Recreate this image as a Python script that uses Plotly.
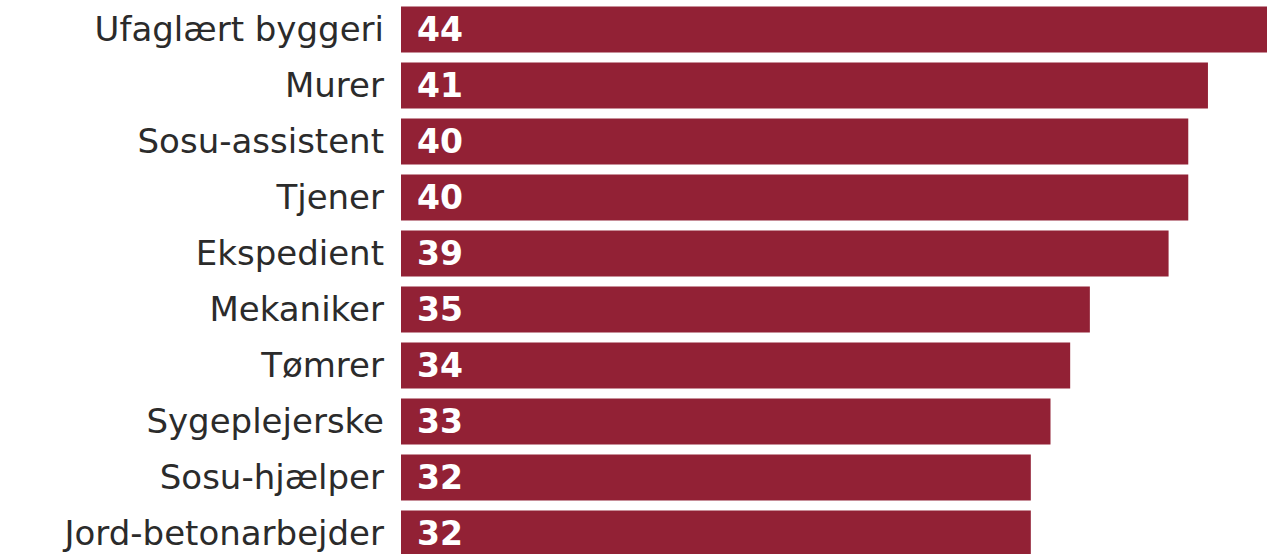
import plotly.graph_objects as go

categories = ["Ufaglært byggeri", "Murer", "Sosu-assistent", "Tjener", "Ekspedient",
              "Mekaniker", "Tømrer", "Sygeplejerske", "Sosu-hjælper", "Jord-betonarbejder"]
values = [44, 41, 40, 40, 39, 35, 34, 33, 32, 32]

bar_color = "#922135"
text_color = "#2b2b2b"
font_family = "DejaVu Sans"

fig = go.Figure()
fig.add_trace(go.Bar(
    x=values,
    y=categories,
    orientation="h",
    marker=dict(color=bar_color, line=dict(width=0)),
    width=0.82,
    hoverinfo="skip",
))

for cat, val in zip(categories, values):
    fig.add_annotation(
        x=0, y=cat, text=f"<b>{val}</b>", showarrow=False,
        xanchor="left", yanchor="middle", xshift=14,
        font=dict(family=font_family, size=33, color="white"),
    )

fig.update_layout(
    width=1278, height=554,
    margin=dict(l=401, r=11, t=0, b=0),
    paper_bgcolor="white", plot_bgcolor="white",
    showlegend=False,
    xaxis=dict(range=[0, 44], visible=False, fixedrange=True),
    yaxis=dict(
        categoryorder="array", categoryarray=categories,
        range=[9.366, -0.527],
        showgrid=False, zeroline=False, showline=False, fixedrange=True,
        ticks="", ticklabelstandoff=16,
        tickfont=dict(family=font_family, size=34, color=text_color),
    ),
)

fig.write_html("out.html",
               config={"displayModeBar": False},
               post_script="document.body.style.margin='0px';document.body.style.overflow='hidden';")
